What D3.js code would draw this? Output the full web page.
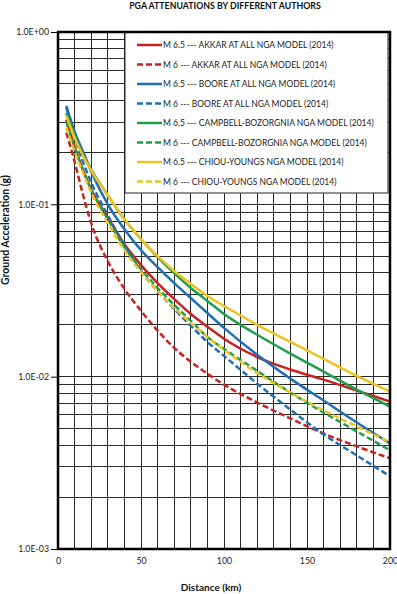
<!DOCTYPE html>
<html>
<head>
<meta charset="utf-8">
<script src="https://cdn.jsdelivr.net/npm/d3@7"></script>
<style>
  body { margin: 0; background: #fff; }
  svg { display: block; font-family: Lato, "Open Sans", sans-serif; }
</style>
</head>
<body>
<svg id="chart" width="397" height="594"></svg>
<script>
const distances = [5, 10, 15, 20, 30, 40, 50, 60, 70, 80, 90, 100, 120, 140, 160, 180, 200];

// PGA (g) per model
const akkar65 = [0.310, 0.216, 0.159, 0.122, 0.0841, 0.0587, 0.0444, 0.0349, 0.0282, 0.0231, 0.0195, 0.0166, 0.0130, 0.0110, 0.00961, 0.00830, 0.00717];
const akkar6 = [0.261, 0.177, 0.114, 0.0777, 0.0468, 0.0323, 0.0241, 0.0185, 0.0147, 0.0122, 0.0104, 0.00899, 0.00708, 0.00572, 0.00468, 0.00394, 0.00336];
const boore65 = [0.373, 0.264, 0.203, 0.155, 0.100, 0.0717, 0.0542, 0.0432, 0.0349, 0.0286, 0.0234, 0.0192, 0.0134, 0.00974, 0.00727, 0.00542, 0.00410];
const boore6 = [0.365, 0.247, 0.177, 0.134, 0.0864, 0.0579, 0.0410, 0.0314, 0.0247, 0.0197, 0.0159, 0.0132, 0.00911, 0.00644, 0.00462, 0.00349, 0.00264];
const cb65 = [0.340, 0.250, 0.195, 0.159, 0.113, 0.0819, 0.0628, 0.0494, 0.0399, 0.0327, 0.0275, 0.0231, 0.0175, 0.0136, 0.0107, 0.00841, 0.00671];
const cb6 = [0.302, 0.214, 0.159, 0.122, 0.0819, 0.0564, 0.0421, 0.0327, 0.0261, 0.0211, 0.0170, 0.0145, 0.0108, 0.00808, 0.00619, 0.00481, 0.00374];
const cy65 = [0.327, 0.244, 0.192, 0.157, 0.113, 0.0819, 0.0628, 0.0500, 0.0410, 0.0345, 0.0294, 0.0257, 0.0200, 0.0159, 0.0127, 0.0101, 0.00819];
const cy6 = [0.279, 0.203, 0.153, 0.117, 0.0777, 0.0542, 0.0405, 0.0314, 0.0250, 0.0205, 0.0170, 0.0143, 0.0105, 0.00808, 0.00636, 0.00514, 0.00416];

const seriesNames = [
  "M 6.5 --- AKKAR AT ALL NGA MODEL (2014)",
  "M 6 --- AKKAR AT ALL NGA MODEL (2014)",
  "M 6.5 --- BOORE AT ALL NGA MODEL (2014)",
  "M 6 --- BOORE AT ALL NGA MODEL (2014)",
  "M 6.5 --- CAMPBELL-BOZORGNIA NGA MODEL (2014)",
  "M 6 --- CAMPBELL-BOZORGNIA NGA MODEL (2014)",
  "M 6.5 --- CHIOU-YOUNGS NGA MODEL (2014)",
  "M 6 --- CHIOU-YOUNGS NGA MODEL (2014)"
];
const seriesValues = [akkar65, akkar6, boore65, boore6, cb65, cb6, cy65, cy6];
const seriesColors = ["#c8221f", "#c8221f", "#1f6fb5", "#1f6fb5", "#1f9e4a", "#1f9e4a", "#eec320", "#eec320"];
const seriesDashed = [false, true, false, true, false, true, false, true];

const xTicks = [0, 50, 100, 150, 200];
const yTicks = [1, 0.1, 0.01, 0.001];
const yTickLabels = ["1.0E+00", "1.0E-01", "1.0E-02", "1.0E-03"];

// Plot area
const svg = d3.select("#chart");
const [pl, pr, pt, pb] = [58, 390, 32, 549];

const x = d3.scaleLinear().domain([0, 200]).range([pl, pr]);
const y = d3.scaleLog().domain([0.001, 1]).range([pb, pt]);

// Title
svg.append("text")
  .attr("x", 225).attr("y", 9)
  .attr("text-anchor", "middle")
  .attr("font-size", 8.8).attr("font-weight", "bold")
  .attr("fill", "#111")
  .text("PGA ATTENUATIONS BY DIFFERENT AUTHORS");

// Grid
const grid = svg.append("g").attr("stroke", "#2a2a2a").attr("stroke-width", 1).attr("shape-rendering", "crispEdges");
grid.selectAll(".vg")
  .data(x.ticks(20))
  .join("line")
  .attr("x1", d => x(d)).attr("x2", d => x(d))
  .attr("y1", pt).attr("y2", pb);
grid.selectAll(".hg")
  .data(y.ticks())
  .join("line")
  .attr("x1", pl).attr("x2", pr)
  .attr("y1", d => y(d)).attr("y2", d => y(d));

// Curves
const line = d3.line()
  .x((d, i) => x(distances[i]))
  .y(d => y(d))
  .curve(d3.curveMonotoneX);

// Legend box (under the curves, over the grid)
const legend = svg.append("g");
legend.append("rect")
  .attr("x", 125).attr("y", pt)
  .attr("width", 263).attr("height", 161)
  .attr("fill", "#fff").attr("stroke", "#222").attr("stroke-width", 1);

svg.append("g")
  .selectAll("path")
  .data(seriesValues)
  .join("path")
  .attr("d", d => line(d))
  .attr("fill", "none")
  .attr("stroke", (d, i) => seriesColors[i])
  .attr("stroke-width", 2.5)
  .attr("stroke-dasharray", (d, i) => seriesDashed[i] ? "6,3" : null);

// Legend entries
const item = legend.selectAll(".item")
  .data(seriesNames)
  .join("g")
  .attr("transform", (d, i) => `translate(137, ${45 + i * 19.5})`);

item.append("line")
  .attr("x1", 0).attr("x2", 25)
  .attr("stroke", (d, i) => seriesColors[i])
  .attr("stroke-width", 2.5)
  .attr("stroke-dasharray", (d, i) => seriesDashed[i] ? "6,3" : null);

item.append("text")
  .attr("x", 26).attr("y", 3)
  .attr("font-size", 8.5)
  .attr("fill", "#222")
  .text(d => d);

// Frame
svg.append("rect")
  .attr("x", pl).attr("y", pt)
  .attr("width", pr - pl).attr("height", pb - pt)
  .attr("fill", "none").attr("stroke", "#000").attr("stroke-width", 2.5);

// Axes
const yAxis = svg.append("g")
  .attr("transform", `translate(${pl},0)`)
  .call(d3.axisLeft(y).tickValues(yTicks)
    .tickFormat((d, i) => yTickLabels[i])
    .tickSize(7).tickPadding(2));
yAxis.select(".domain").remove();
yAxis.selectAll("text").attr("font-size", 8.8).attr("fill", "#222").attr("font-family", "Lato, sans-serif");

const xAxis = svg.append("g")
  .attr("transform", `translate(0,${pb})`)
  .call(d3.axisBottom(x).tickValues(xTicks).tickSize(0).tickPadding(9));
xAxis.select(".domain").remove();
xAxis.selectAll("text").attr("font-size", 8.8).attr("fill", "#222").attr("font-family", "Lato, sans-serif");

// Axis titles
svg.append("text")
  .attr("x", 211).attr("y", 591)
  .attr("text-anchor", "middle")
  .attr("font-size", 10).attr("font-weight", "bold").attr("fill", "#111")
  .text("Distance (km)");

svg.append("text")
  .attr("transform", "translate(9,230) rotate(-90)")
  .attr("text-anchor", "middle")
  .attr("font-size", 10.5).attr("font-weight", "bold").attr("fill", "#111")
  .text("Ground Acceleration (g)");
</script>
</body>
</html>
